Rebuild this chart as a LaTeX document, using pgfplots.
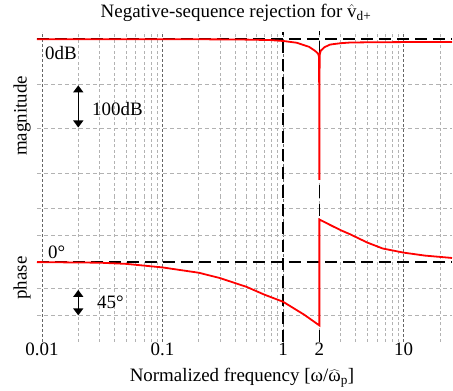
\documentclass[border=0pt]{standalone}
\usepackage{pgfplots}
\pgfplotsset{compat=1.18}
\usepackage{fontspec}
\setmainfont{Liberation Serif}
\usetikzlibrary{arrows.meta}
\pgfplotsset{
  myaxis/.style={
    scale only axis, width=415bp,
    xmin=0.00909, xmax=25.2,
    axis line style={draw=none}, tick style={draw=none},
    xtick={0.01,0.1,1,10},
    minor xtick={0.02,0.03,0.04,0.05,0.06,0.07,0.08,0.09,0.2,0.3,0.4,0.5,0.6,0.7,0.8,0.9,2,3,4,5,6,7,8,9,20},
    xmajorgrids, xminorgrids, ymajorgrids,
    major x grid style={black!60, dash pattern=on 3bp off 2bp, line width=0.9bp},
    minor x grid style={black!30, dash pattern=on 3bp off 2.5bp, line width=0.7bp},
    major y grid style={black!30, dash pattern=on 4bp off 3bp, line width=0.7bp},
    yticklabels={},
    clip=false,
    /pgf/number format/assume math mode=true,
  },
  blk/.style={black, line width=1.6bp, dash pattern=on 12bp off 6bp},
  rd/.style={red, line width=1.8bp},
}
\begin{document}
\fontsize{19}{22}\selectfont
\begin{tikzpicture}
\useasboundingbox (0,0) rectangle (453bp,391bp);
% magnitude
\begin{semilogxaxis}[myaxis, at={(37bp,194bp)}, anchor=south west, height=165bp,
  ymin=-352, ymax=16, ytick={-300,-200,-100}, xticklabels={}]
\addplot[blk] coordinates {(0.00909,0) (25.2,0)};
\addplot[blk] coordinates {(1,-352) (1,16)};
\addplot[blk] coordinates {(2,-352) (2,18)};
\addplot[rd] coordinates {
(0.00909,0) (0.1,0) (0.3,-0.5) (0.5,-1) (0.78,-2) (1,-4) (1.3,-8) (1.64,-17) (1.84,-26) (1.95,-32) (1.99,-40)
(2,-314) (2.01,-36) (2.05,-26) (2.2,-18) (2.46,-12) (3,-9) (3.6,-7.5) (5,-7) (10,-6.5) (25.2,-6.5)};
\draw[black, line width=1.4bp, {Triangle[width=10bp,length=7bp]}-{Triangle[width=10bp,length=7bp]}]
  (axis cs:0.02,-103) -- (axis cs:0.02,-197);
\node[anchor=west, inner sep=0pt] at (axis cs:0.0106,-30) {0dB};
\node[anchor=west, inner sep=0pt] at (axis cs:0.026,-156) {100dB};
\end{semilogxaxis}
% phase
\begin{semilogxaxis}[myaxis, at={(37bp,49bp)}, anchor=south west, height=145bp,
  ymin=-135, ymax=110, ytick={-90,-45,45,90},
  xticklabels={0.01,0.1,1,10},
  extra x ticks={2}, extra x tick labels={2}, extra x tick style={grid=none},
  xticklabel style={font=\fontsize{19}{22}\selectfont, inner sep=1bp}]
\addplot[blk] coordinates {(0.00909,0) (25.2,0)};
\addplot[blk] coordinates {(1,-135) (1,110)};
\addplot[blk] coordinates {(2,-135) (2,110)};
\addplot[rd] coordinates {
(0.00909,0) (0.03,-1) (0.05,-3) (0.1,-9) (0.2,-18) (0.3,-27) (0.5,-42) (0.7,-55) (1,-67) (1.5,-89) (2,-107)
(2,72) (2.5,62) (3,54) (3.6,47) (5,33) (6.7,23) (10,16) (15,11) (25.2,7)};
\draw[black, line width=1.4bp, {Triangle[width=10bp,length=7bp]}-{Triangle[width=10bp,length=7bp]}]
  (axis cs:0.02,-47) -- (axis cs:0.02,-90);
\node[anchor=west, inner sep=0pt] at (axis cs:0.0112,17) {0°};
\node[anchor=west, inner sep=0pt] at (axis cs:0.0286,-68) {45°};
\end{semilogxaxis}
\node at (236bp,378bp) {Negative-sequence rejection for $\hat{\mbox{v}}$\textsubscript{d+}};
\node at (242bp,13bp) {Normalized frequency [ω/$\widehat{\mbox{ω}}$\textsubscript{p}]};
\node[rotate=90] at (22bp,275bp) {magnitude};
\node[rotate=90] at (22bp,113bp) {phase};
\end{tikzpicture}
\end{document}
